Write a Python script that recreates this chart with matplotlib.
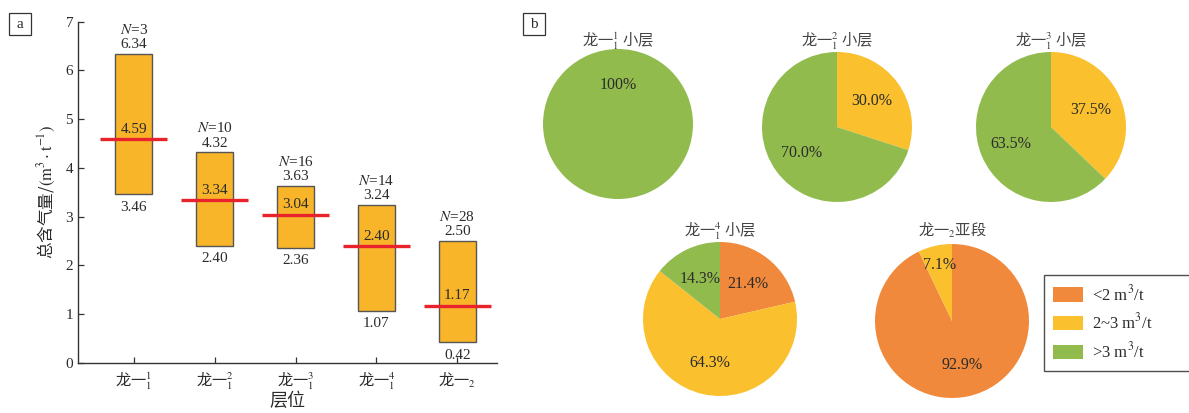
import matplotlib
matplotlib.use("Agg")
import matplotlib.pyplot as plt
from matplotlib.patches import Patch, Rectangle
import numpy as np

plt.rcParams["font.family"] = ["Liberation Serif", "Noto Sans CJK SC"]
plt.rcParams["mathtext.fontset"] = "stix"
plt.rcParams["axes.unicode_minus"] = False

CJK = "Noto Sans CJK SC"
TXT = "#2b2b2b"

# =========================
# 图 a：各层位总含气量
# =========================
layers = ["龙一${}_{1}^{1}$", "龙一${}_{1}^{2}$", "龙一${}_{1}^{3}$",
          "龙一${}_{1}^{4}$", "龙一${}_{2}$"]
gas_max = [6.34, 4.32, 3.63, 3.24, 2.50]
gas_min = [3.46, 2.40, 2.36, 1.07, 0.42]
gas_mean = [4.59, 3.34, 3.04, 2.40, 1.17]
sample_n = [3, 10, 16, 14, 28]

# =========================
# 图 b：含气量分级占比 (%)
# =========================
pie_titles = ["龙一${}_{1}^{1}$ 小层", "龙一${}_{1}^{2}$ 小层", "龙一${}_{1}^{3}$ 小层",
              "龙一${}_{1}^{4}$ 小层", "龙一${}_{2}$亚段"]
share_low = [0, 0, 0, 21.4, 92.9]      # <2 m3/t
share_mid = [0, 30.0, 37.5, 64.3, 7.1]  # 2~3 m3/t
share_high = [100, 70.0, 63.5, 14.3, 0]  # >3 m3/t
class_labels = ["<2 m$^3$/t", "2~3 m$^3$/t", ">3 m$^3$/t"]
class_colors = ["#F0893B", "#FAC02E", "#92BB4E"]

W, H = 1189, 413


def px_box(x0, y0, x1, y1):
    # 像素坐标(左上为原点) -> figure 坐标
    return [x0 / W, 1 - y1 / H, (x1 - x0) / W, (y1 - y0) / H]


def letter_box(fig, x0, y0, s):
    fig.add_artist(Rectangle((x0 / W, 1 - (y0 + 22) / H), 22 / W, 22 / H,
                             transform=fig.transFigure, fill=False,
                             ec="#333333", lw=0.9))
    fig.text((x0 + 11) / W, 1 - (y0 + 11) / H, s, ha="center", va="center",
             fontsize=11, color=TXT)


fig = plt.figure(figsize=(W / 100, H / 100), dpi=100)

# ---------- a ----------
ax = fig.add_axes(px_box(78, 21.7, 497, 362.7))
x = np.arange(1, len(layers) + 1)
heights = [hi - lo for hi, lo in zip(gas_max, gas_min)]
ax.bar(x, heights, bottom=gas_min, width=0.46, color="#F8B52A",
       edgecolor="#555555", linewidth=1.0, zorder=2)
ax.hlines(gas_mean, x - 0.415, x + 0.415, color="#E8232B", lw=2.4, zorder=3)

for xi, hi, lo, mu, n in zip(x, gas_max, gas_min, gas_mean, sample_n):
    ax.annotate(f"{hi:.2f}", (xi, hi), xytext=(0, 6.5), textcoords="offset points",
                ha="center", va="center", fontsize=11, color=TXT)
    ax.annotate(f"$N$={n}", (xi, hi), xytext=(0, 17.5), textcoords="offset points",
                ha="center", va="center", fontsize=11, color=TXT)
    ax.annotate(f"{lo:.2f}", (xi, lo), xytext=(0, -9.5), textcoords="offset points",
                ha="center", va="center", fontsize=11, color=TXT)
    ax.annotate(f"{mu:.2f}", (xi, mu), xytext=(0, 7), textcoords="offset points",
                ha="center", va="center", fontsize=11, color=TXT, zorder=4)

ax.set_xlim(0.31, 5.49)
ax.set_ylim(0, 7)
ax.set_yticks(range(0, 8))
ax.set_xticks(x)
ax.set_xticklabels(layers, fontfamily=CJK, fontsize=12, color=TXT)
ax.tick_params(direction="in", length=4, width=0.9, colors="#333333",
               labelsize=11, labelcolor=TXT)
ax.tick_params(axis="x", pad=5)
for side in ["top", "right"]:
    ax.spines[side].set_visible(False)
for side in ["left", "bottom"]:
    ax.spines[side].set_color("#333333")
    ax.spines[side].set_linewidth(1.0)
ax.set_ylabel(r"总含气量/$(\mathrm{m}^3\cdot\mathrm{t}^{-1})$", fontfamily=CJK,
              fontsize=12, color=TXT, labelpad=6)
ax.set_xlabel("层位", fontfamily=CJK, fontsize=13, color=TXT, labelpad=0)

letter_box(fig, 9, 13, "a")

# ---------- b ----------
letter_box(fig, 523, 13, "b")

pie_centers = [(618, 124), (837, 127), (1051, 127), (720, 319), (952, 321)]
pie_radii = [75, 75, 75, 77, 77]
title_y = [40.5, 40.5, 41, 231, 230]

for i, title in enumerate(pie_titles):
    cx, cy = pie_centers[i]
    r = pie_radii[i]
    pax = fig.add_axes(px_box(cx - r, cy - r, cx + r, cy + r))
    vals = [share_low[i], share_mid[i], share_high[i]]
    keep = [k for k, v in enumerate(vals) if v > 0]
    wedges, _ = pax.pie([vals[k] for k in keep],
                        colors=[class_colors[k] for k in keep],
                        startangle=90, counterclock=False,
                        wedgeprops=dict(linewidth=0))
    for w, k in zip(wedges, keep):
        v = vals[k]
        if len(keep) == 1:
            ang, d = 90, 0.52
        else:
            ang = (w.theta1 + w.theta2) / 2
            d = 0.75 if v < 10 else 0.58
        a = np.deg2rad(ang)
        txt = "100%" if v == 100 else f"{v:.1f}%"
        pax.text(d * np.cos(a), d * np.sin(a), txt, ha="center", va="center",
                 fontsize=11.5, color=TXT)
    pax.set_xlim(-1, 1)
    pax.set_ylim(-1, 1)
    pax.set_aspect("equal")
    pax.axis("off")
    fig.text(cx / W, 1 - title_y[i] / H, title, ha="center", va="center",
             fontfamily=CJK, fontsize=11, color="#444444")

handles = [Patch(facecolor=c, edgecolor="none") for c in class_colors]
leg = fig.legend(handles, class_labels, loc="upper left",
                 bbox_to_anchor=(1044 / W, 1 - 366 / H, 146 / W, 91 / H),
                 mode="expand", frameon=True,
                 fancybox=False, edgecolor="#222222", fontsize=12,
                 handlelength=1.8, handleheight=0.95, labelspacing=0.52,
                 borderpad=0.55, handletextpad=0.5, borderaxespad=0)
leg.get_frame().set_linewidth(1.0)
for t in leg.get_texts():
    t.set_color(TXT)

fig.savefig("out.png", dpi=100)
